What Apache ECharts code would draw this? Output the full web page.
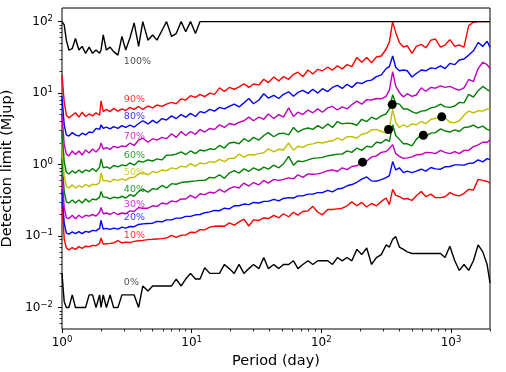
<!DOCTYPE html>
<html>
<head>
<meta charset="utf-8">
<script src="https://cdn.jsdelivr.net/npm/echarts@6/dist/echarts.min.js"></script>
<style>
  html, body { margin: 0; padding: 0; background: #fff; }
  #chart { width: 506px; height: 372px; }
</style>
</head>
<body>
<div id="chart"></div>
<script>
// period grid (day), shared by every curve
const periods = [1, 1.04, 1.08, 1.13, 1.2, 1.27, 1.35, 1.43, 1.52, 1.62,
  1.72, 1.83, 1.95, 2.0, 2.08, 2.2, 2.35, 2.5, 2.7, 2.9,
  3.1, 3.35, 3.6, 3.9, 4.2, 4.6, 5.0, 5.4, 5.9, 6.4,
  7.0, 7.6, 8.3, 9.0, 9.8, 10.7, 11.6, 12.6, 13.8, 15,
  16.4, 17.9, 19.5, 21.3, 23.2, 25.3, 27.6, 30, 33, 36,
  39, 43, 47, 51, 56, 61, 66, 72, 79, 86,
  94, 102, 112, 122, 133, 145, 158, 172, 188, 205,
  224, 244, 266, 290, 316, 335, 355, 375, 400, 430,
  460, 500, 540, 590, 640, 700, 760, 830, 900, 980,
  1070, 1160, 1260, 1370, 1490, 1620, 1760, 1900, 2000];

// detection limits (Mjup) per level
const lim0 = [0.03, 0.012, 0.01, 0.01, 0.015, 0.01, 0.01, 0.01, 0.01, 0.015,
  0.015, 0.01, 0.015, 0.01, 0.015, 0.01, 0.015, 0.01, 0.01, 0.015,
  0.015, 0.015, 0.015, 0.01, 0.02, 0.017, 0.02, 0.02, 0.02, 0.02,
  0.02, 0.025, 0.02, 0.025, 0.03, 0.025, 0.025, 0.036, 0.03, 0.03,
  0.03, 0.04, 0.035, 0.03, 0.04, 0.03, 0.035, 0.04, 0.035, 0.05,
  0.035, 0.04, 0.035, 0.04, 0.04, 0.045, 0.035, 0.04, 0.045, 0.04,
  0.045, 0.045, 0.045, 0.04, 0.05, 0.045, 0.05, 0.045, 0.065, 0.055,
  0.068, 0.04, 0.05, 0.055, 0.075, 0.07, 0.09, 0.098, 0.07, 0.065,
  0.06, 0.057, 0.057, 0.057, 0.057, 0.057, 0.057, 0.057, 0.05, 0.072,
  0.045, 0.033, 0.04, 0.033, 0.045, 0.075, 0.06, 0.04, 0.022];
const lim10 = [0.3, 0.09, 0.068, 0.064, 0.069, 0.065, 0.071, 0.067, 0.072, 0.071,
  0.074, 0.073, 0.079, 0.094, 0.077, 0.078, 0.079, 0.08, 0.086, 0.08,
  0.082, 0.081, 0.084, 0.086, 0.087, 0.089, 0.09, 0.091, 0.092, 0.094,
  0.102, 0.096, 0.103, 0.103, 0.113, 0.112, 0.123, 0.122, 0.133, 0.137,
  0.138, 0.137, 0.153, 0.142, 0.158, 0.172, 0.138, 0.168, 0.165, 0.18,
  0.175, 0.195, 0.18, 0.205, 0.186, 0.215, 0.196, 0.22, 0.225, 0.26,
  0.215, 0.198, 0.235, 0.235, 0.24, 0.245, 0.265, 0.3, 0.265, 0.295,
  0.255, 0.285, 0.265, 0.305, 0.34, 0.275, 0.45, 0.37, 0.355, 0.33,
  0.335, 0.315, 0.365, 0.42, 0.355, 0.385, 0.345, 0.345, 0.355, 0.405,
  0.375, 0.365, 0.395, 0.45, 0.44, 0.62, 0.6, 0.58, 0.55];
const lim20 = [0.45, 0.15, 0.11, 0.106, 0.114, 0.108, 0.115, 0.108, 0.116, 0.113,
  0.12, 0.118, 0.128, 0.165, 0.125, 0.128, 0.124, 0.129, 0.125, 0.133,
  0.129, 0.136, 0.135, 0.145, 0.148, 0.15, 0.151, 0.16, 0.158, 0.168,
  0.168, 0.178, 0.178, 0.188, 0.188, 0.198, 0.2, 0.212, 0.218, 0.228,
  0.226, 0.245, 0.24, 0.265, 0.265, 0.28, 0.275, 0.295, 0.29, 0.305,
  0.305, 0.325, 0.31, 0.335, 0.345, 0.34, 0.365, 0.365, 0.385, 0.385,
  0.405, 0.405, 0.435, 0.415, 0.455, 0.465, 0.505, 0.525, 0.565, 0.625,
  0.67, 0.59, 0.585, 0.615, 0.655, 0.7, 1.1, 0.84, 0.9, 0.77,
  0.81, 0.77, 0.81, 0.86, 0.81, 0.91, 0.87, 0.86, 0.93, 0.94,
  0.99, 0.99, 0.98, 1.04, 1.05, 1.16, 1.09, 1.21, 1.17];
const lim30 = [0.7, 0.25, 0.18, 0.175, 0.195, 0.175, 0.195, 0.18, 0.195, 0.19,
  0.2, 0.19, 0.215, 0.25, 0.205, 0.21, 0.2, 0.215, 0.2, 0.21,
  0.205, 0.225, 0.22, 0.25, 0.245, 0.245, 0.265, 0.26, 0.29, 0.28,
  0.31, 0.3, 0.33, 0.33, 0.37, 0.34, 0.39, 0.38, 0.41, 0.4,
  0.45, 0.41, 0.46, 0.49, 0.47, 0.55, 0.5, 0.56, 0.52, 0.6,
  0.55, 0.62, 0.6, 0.62, 0.65, 0.63, 0.72, 0.66, 0.74, 0.73,
  0.74, 0.77, 0.82, 0.84, 0.8, 0.9, 0.85, 0.94, 0.96, 1.06,
  1.12, 1.27, 1.32, 1.48, 1.52, 1.68, 1.9, 1.42, 1.3, 1.22,
  1.24, 1.28, 1.37, 1.38, 1.48, 1.47, 1.42, 1.58, 1.48, 1.42,
  1.52, 1.42, 1.58, 1.58, 1.78, 1.88, 2.05, 2.05, 2.2];
const lim40 = [1.2, 0.42, 0.3, 0.29, 0.32, 0.29, 0.32, 0.29, 0.33, 0.3,
  0.33, 0.32, 0.35, 0.42, 0.35, 0.35, 0.33, 0.35, 0.34, 0.36,
  0.34, 0.38, 0.36, 0.42, 0.45, 0.41, 0.46, 0.45, 0.51, 0.47,
  0.54, 0.53, 0.56, 0.57, 0.58, 0.59, 0.6, 0.6, 0.66, 0.65,
  0.72, 0.64, 0.76, 0.82, 0.76, 0.87, 0.8, 0.9, 0.83, 0.92,
  0.86, 0.98, 0.9, 1.02, 1.3, 0.98, 1.12, 1.1, 1.16, 1.22,
  1.24, 1.26, 1.32, 1.36, 1.4, 1.4, 1.55, 1.48, 1.7, 1.58,
  1.8, 1.75, 2.05, 2.0, 2.25, 2.1, 3.6, 2.55, 2.25, 1.95,
  1.95, 1.82, 2.25, 2.6, 2.5, 2.75, 2.8, 3.15, 2.95, 2.85,
  3.05, 2.9, 3.3, 3.35, 3.55, 3.25, 3.45, 3.1, 3.0];
const lim50 = [2.0, 0.7, 0.5, 0.47, 0.52, 0.47, 0.51, 0.48, 0.53, 0.49,
  0.53, 0.52, 0.56, 0.76, 0.59, 0.6, 0.57, 0.62, 0.6, 0.63,
  0.6, 0.66, 0.66, 0.74, 0.77, 0.72, 0.8, 0.77, 0.84, 0.82,
  0.9, 0.87, 0.95, 0.92, 1.03, 0.95, 1.05, 1.02, 1.1, 1.07,
  1.18, 1.1, 1.22, 1.22, 1.4, 1.27, 1.38, 1.36, 1.42, 1.46,
  1.66, 1.5, 1.64, 1.6, 2.0, 1.58, 1.8, 1.74, 1.9, 1.95,
  2.05, 2.0, 2.1, 2.15, 2.35, 2.2, 2.45, 2.45, 2.35, 2.65,
  2.75, 3.05, 3.1, 2.9, 2.75, 3.2, 5.9, 3.9, 3.3, 3.6,
  3.35, 3.7, 3.6, 4.0, 3.75, 4.3, 4.4, 4.8, 4.5, 3.9,
  3.85, 4.1, 4.9, 5.6, 5.3, 5.7, 5.6, 6.0, 5.9];
const lim60 = [3.0, 1.1, 0.78, 0.74, 0.82, 0.76, 0.84, 0.77, 0.84, 0.8,
  0.88, 0.8, 0.92, 1.2, 0.9, 0.93, 0.88, 0.97, 0.93, 0.99,
  0.96, 1.06, 0.98, 1.12, 1.08, 1.16, 1.12, 1.2, 1.16, 1.35,
  1.36, 1.4, 1.5, 1.38, 1.55, 1.42, 1.6, 1.55, 1.66, 1.62,
  1.85, 1.7, 2.0, 2.05, 1.95, 2.3, 2.1, 2.4, 2.2, 2.55,
  2.8, 2.45, 2.7, 2.75, 2.6, 3.3, 2.85, 3.1, 3.25, 3.1,
  3.5, 3.2, 3.7, 3.3, 4.0, 3.7, 3.8, 3.75, 3.55, 4.3,
  4.0, 4.6, 4.3, 4.8, 5.1, 6.0, 9.5, 7.2, 7.0, 6.0,
  6.0, 5.5, 5.2, 5.6, 5.7, 6.2, 6.4, 7.0, 6.4, 6.3,
  6.6, 7.4, 7.3, 9.6, 8.8, 10.8, 12.4, 11.2, 10.6];
const lim70 = [5.0, 1.9, 1.4, 1.32, 1.55, 1.38, 1.55, 1.36, 1.6, 1.45,
  1.65, 1.5, 1.7, 2.0, 1.65, 1.72, 1.63, 1.8, 1.72, 1.82,
  1.78, 2.0, 1.85, 2.2, 2.35, 2.05, 2.3, 2.2, 2.4, 2.3,
  2.7, 2.4, 2.9, 2.55, 2.9, 2.65, 3.1, 2.85, 3.2, 3.1,
  3.6, 3.3, 3.75, 3.6, 3.9, 4.1, 4.6, 4.1, 4.6, 4.3,
  5.1, 4.4, 5.0, 4.6, 6.2, 4.7, 5.4, 5.0, 5.8, 5.3,
  6.0, 5.4, 6.2, 6.5, 5.8, 6.4, 6.0, 6.9, 7.7, 7.0,
  8.1, 8.0, 8.4, 8.3, 9.0, 11, 20, 12.5, 10.2, 8.8,
  9.8, 9.0, 9.4, 11.8, 10.6, 12.0, 11.7, 12.6, 12.0, 12.4,
  11.5, 11.0, 11.8, 15.5, 14.5, 22, 27, 25, 22];
const lim80 = [9, 3.6, 2.6, 2.5, 2.8, 2.6, 2.5, 2.75, 2.6, 2.85,
  2.8, 3.2, 3.1, 3.6, 3.2, 3.35, 3.15, 3.4, 3.2, 3.5,
  3.3, 3.55, 3.35, 3.75, 4.1, 3.7, 4.15, 3.8, 4.4, 4.2,
  4.8, 4.4, 5.0, 4.6, 5.2, 4.7, 5.5, 5.3, 5.9, 5.6,
  6.3, 6.0, 6.5, 7.0, 6.4, 7.3, 8.4, 7.1, 8.0, 9.8,
  8.5, 9.3, 8.4, 9.6, 10.4, 9.0, 10.2, 10.9, 9.9, 11.3,
  10.0, 11.5, 10.5, 12.0, 12.8, 11.6, 13.3, 12.0, 14.0, 13.6,
  14.8, 15.2, 17.0, 18.0, 22.0, 23.5, 33, 23, 20.5, 21.0,
  20.5, 16.8, 18.8, 21.0, 20.5, 22.5, 22.0, 24.0, 22.0, 26.0,
  25.0, 29.0, 30.0, 34.0, 39.0, 51, 45, 53, 44];
const lim90 = [18, 7.5, 4.9, 4.5, 4.9, 5.3, 4.6, 5.4, 4.7, 5.1,
  4.8, 5.3, 4.9, 7.8, 5.5, 5.9, 5.5, 6.1, 5.6, 6.0,
  5.7, 6.3, 5.9, 6.5, 5.9, 6.6, 6.2, 6.8, 6.5, 7.0,
  7.4, 7.1, 8.3, 8.0, 9.2, 8.7, 9.6, 8.9, 10.0, 9.6,
  11.8, 10.5, 12.0, 11.3, 12.2, 13.5, 12.0, 13.4, 13.0, 15.6,
  14.0, 16.8, 14.8, 17.0, 15.6, 18.3, 19.6, 17.0, 21.0, 18.5,
  21.5, 20.5, 23.0, 21.0, 24.0, 21.8, 25.0, 23.5, 31.5, 27.0,
  31.5, 26.5, 32.0, 33.0, 41.0, 52.0, 100, 70, 51, 44,
  46, 36, 45, 48, 43, 55, 57, 44, 47, 56,
  45, 47, 44, 88, 98, 100, 100, 100, 100];
const lim100 = [100, 90, 55, 40, 42, 58, 40, 45, 36, 44,
  36, 40, 36, 40, 65, 40, 44, 38, 34, 62,
  40, 60, 96, 45, 100, 55, 65, 55, 75, 100,
  62, 68, 100, 72, 100, 68, 100, 100, 100, 100,
  100, 100, 100, 100, 100, 100, 100, 100, 100, 100,
  100, 100, 100, 100, 100, 100, 100, 100, 100, 100,
  100, 100, 100, 100, 100, 100, 100, 100, 100, 100,
  100, 100, 100, 100, 100, 100, 100, 100, 100, 100,
  100, 100, 100, 100, 100, 100, 100, 100, 100, 100,
  100, 100, 100, 100, 100, 100, 100, 100, 100];

const levelNames = ['0%', '10%', '20%', '30%', '40%', '50%', '60%', '70%', '80%', '90%', '100%'];
const levelColors = ['#000000', '#ff0000', '#0000ff', '#bf00bf', '#008000', '#bfbf00',
  '#008000', '#bf00bf', '#0000ff', '#ff0000', '#000000'];
const levelData = [lim0, lim10, lim20, lim30, lim40, lim50, lim60, lim70, lim80, lim90, lim100];

// where the percentage labels sit (period, Mjup)
const labelPeriod = 3;
const labelValues = [0.0226, 0.103, 0.183, 0.276, 0.447, 0.765, 1.35, 2.49, 4.74, 8.1, 27.9];

// detected planets
const planetPeriods = [208, 330, 352, 612, 849];
const planetMasses = [1.08, 3.09, 6.9, 2.57, 4.65];

// ticks
const xMajor = [1, 10, 100, 1000];
const xMinor = [2, 3, 4, 5, 6, 7, 8, 9, 20, 30, 40, 50, 60, 70, 80, 90,
  200, 300, 400, 500, 600, 700, 800, 900, 2000];
const yMajor = [0.01, 0.1, 1, 10, 100];
const yMinor = [0.006, 0.007, 0.008, 0.009, 0.02, 0.03, 0.04, 0.05, 0.06, 0.07, 0.08, 0.09,
  0.2, 0.3, 0.4, 0.5, 0.6, 0.7, 0.8, 0.9, 2, 3, 4, 5, 6, 7, 8, 9,
  20, 30, 40, 50, 60, 70, 80, 90];

const FONT = 'DejaVu Sans';

function powLabel(v) {
  const e = Math.round(Math.log10(v));
  const s = e < 0 ? '\u2212' + (-e) : String(e);
  return '{b|10}{s|' + s + '}';
}

const richTick = {
  b: { fontFamily: FONT, fontSize: 12, color: '#000' },
  s: { fontFamily: FONT, fontSize: 8.5, color: '#000', padding: [0, 0, 6, 0] }
};

function majorAxis(min, max, values, margin, extra) {
  return Object.assign({
    type: 'log',
    logBase: 10,
    min: min,
    max: max,
    axisLine: { show: false },
    axisTick: { show: true, length: 4, customValues: values, lineStyle: { color: '#000', width: 1 } },
    axisLabel: {
      customValues: values,
      formatter: powLabel,
      rich: richTick,
      margin: margin
    },
    splitLine: { show: false },
    minorTick: { show: false }
  }, extra);
}

function minorAxis(min, max, values, pos) {
  return {
    type: 'log',
    logBase: 10,
    min: min,
    max: max,
    position: pos,
    axisLine: { show: false },
    axisTick: { show: true, length: 2.5, customValues: values, lineStyle: { color: '#000', width: 0.8 } },
    axisLabel: { show: false },
    splitLine: { show: false }
  };
}

const series = levelData.map((vals, i) => ({
  name: levelNames[i],
  type: 'line',
  xAxisIndex: 0,
  yAxisIndex: 0,
  showSymbol: false,
  symbol: 'none',
  data: periods.map((p, j) => [p, vals[j]]),
  lineStyle: { color: levelColors[i], width: 1.4 },
  z: 2
}));

series.push({
  type: 'scatter',
  xAxisIndex: 0,
  yAxisIndex: 0,
  symbolSize: 0,
  data: labelValues.map((v, i) => ({
    value: [labelPeriod, v],
    label: { color: levelColors[i] === '#000000' ? '#222' : levelColors[i] }
  })),
  label: {
    show: true,
    position: [0, 0],
    align: 'left',
    verticalAlign: 'middle',
    fontFamily: FONT,
    fontSize: 9.5,
    formatter: p => levelNames[p.dataIndex]
  },
  z: 3
});

series.push({
  type: 'scatter',
  xAxisIndex: 0,
  yAxisIndex: 0,
  symbol: 'circle',
  symbolSize: 9,
  itemStyle: { color: '#000', opacity: 1 },
  data: planetPeriods.map((p, i) => [p, planetMasses[i]]),
  z: 4
});

const chart = echarts.init(document.getElementById('chart'), null, { renderer: 'canvas' });
chart.setOption({
  animation: false,
  backgroundColor: '#fff',
  textStyle: { fontFamily: FONT },
  grid: {
    left: 62, right: 16, top: 8, bottom: 43,
    show: true, borderColor: '#000', borderWidth: 1, backgroundColor: 'transparent',
    containLabel: false,
    outerBoundsMode: 'none'
  },
  xAxis: [
    majorAxis(1, 2000, xMajor, 6, {
      position: 'bottom',
      name: 'Period (day)',
      nameLocation: 'middle',
      nameGap: 21,
      nameTextStyle: { fontFamily: FONT, fontSize: 14.5, color: '#000' }
    }),
    minorAxis(1, 2000, xMinor, 'bottom')
  ],
  yAxis: [
    majorAxis(0.005, 155, yMajor, 9, {
      position: 'left',
      name: 'Detection limit (Mjup)',
      nameLocation: 'middle',
      nameRotate: 90,
      nameGap: 41,
      nameTextStyle: { fontFamily: FONT, fontSize: 14.5, color: '#000' }
    }),
    minorAxis(0.005, 155, yMinor, 'left')
  ],
  series: series
});
</script>
</body>
</html>
